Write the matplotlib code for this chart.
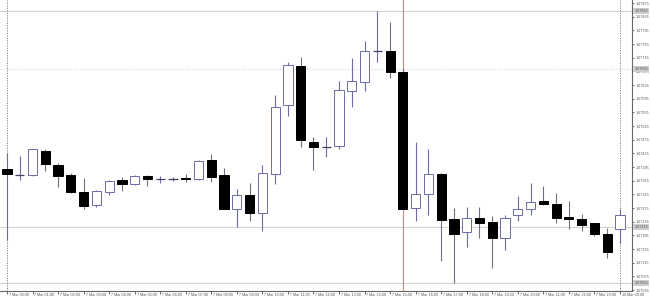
import matplotlib
matplotlib.use("Agg")
import matplotlib.pyplot as plt
import numpy as np

# 30-minute candles, 7 Mar 00:00 .. 10 Mar 00:00 (prices in 1e-5 units)
opens = [167389, 167373, 167371, 167443, 167402, 167371, 167322, 167283, 167323, 167356,
         167345, 167368, 167361, 167361, 167364, 167359, 167415, 167371, 167272, 167313,
         167260, 167374, 167576, 167690, 167467, 167454, 167456, 167618, 167644, 167735,
         167734, 167672, 167274, 167315, 167374, 167242, 167204, 167245, 167234, 167186,
         167254, 167271, 167295, 167287, 167248, 167243, 167230, 167199, 167214]
highs = [167436, 167427, 167449, 167447, 167408, 167378, 167363, 167328, 167357, 167365,
         167371, 167371, 167369, 167367, 167374, 167415, 167433, 167391, 167330, 167349,
         167402, 167605, 167702, 167718, 167484, 167482, 167646, 167714, 167763, 167852,
         167819, 167681, 167467, 167448, 167376, 167274, 167279, 167277, 167252, 167254,
         167311, 167349, 167339, 167318, 167295, 167257, 167232, 167216, 167272]
lows = [167181, 167357, 167370, 167384, 167337, 167320, 167271, 167277, 167312, 167326,
        167343, 167339, 167347, 167353, 167351, 167357, 167352, 167271, 167220, 167238,
        167209, 167345, 167544, 167453, 167386, 167425, 167447, 167572, 167618, 167702,
        167655, 167269, 167236, 167256, 167121, 167055, 167162, 167186, 167099, 167152,
        167238, 167254, 167284, 167232, 167213, 167209, 167193, 167130, 167172]
closes = [167374, 167373, 167447, 167403, 167370, 167321, 167281, 167325, 167354, 167346,
          167368, 167361, 167361, 167361, 167359, 167412, 167367, 167272, 167313, 167260,
          167377, 167572, 167693, 167474, 167453, 167454, 167620, 167646, 167734, 167735,
          167673, 167272, 167316, 167374, 167240, 167198, 167245, 167232, 167186, 167246,
          167271, 167293, 167286, 167245, 167243, 167225, 167198, 167146, 167254]

x_labels = ["7 Mar %02d:00" % h for h in range(24)] + ["10 Mar 00:00"]
y_ticks = [1.67875, 1.67835, 1.67795, 1.67755, 1.67715, 1.67675, 1.67635, 1.67595,
           1.67555, 1.67515, 1.67475, 1.67435, 1.67395, 1.67355, 1.67315, 1.67275,
           1.67235, 1.67195, 1.67155, 1.67115, 1.67075, 1.67035]
hline_prices = [1.67852, 1.67682, 1.67219, 1.67055]
hline_styles = ["-", ":", "-", "-"]
separator_idx = [0, 48]
event_idx = 31

o = np.array(opens) / 1e5
h = np.array(highs) / 1e5
l = np.array(lows) / 1e5
c = np.array(closes) / 1e5
n = len(o)
x = np.arange(n)

FS = 2.7
FONT = "Liberation Sans"

fig = plt.figure(figsize=(6.5, 3.0), dpi=100)
ax = fig.add_axes([0.0, 9 / 300, 632 / 650, 291 / 300])
ax.set_xlim(-7 / 12.77, (632 - 7) / 12.77)
ax.set_ylim(1.670321, 1.678838)

bull_col = "#6c6ca6"
wick_bear = "#707080"

# horizontal high/low lines
for p, ls in zip(hline_prices, hline_styles):
    ax.axhline(p, color="#d4d4d4", lw=0.8, ls=ls, zorder=0)
    ax.text(1.004, p, "%.5f" % p, transform=ax.get_yaxis_transform(),
            fontsize=FS, va="center", ha="left", color="#555555",
            bbox=dict(boxstyle="square,pad=0.3", fc="#cdcdcd", ec="none"),
            family=FONT, zorder=5, clip_on=False)

# separators
for si in separator_idx:
    ax.axvline(si, color="#777777", lw=0.6, ls=(0, (1.5, 1.5)), zorder=0)
ax.axvline(event_idx, color="#d88a78", lw=0.8, zorder=0)

w = 0.72
for i in range(n):
    bull = c[i] > o[i]
    doji = abs(c[i] - o[i]) < 0.5e-5
    wc = bull_col if (bull or doji) else wick_bear
    ax.vlines(x[i], l[i], h[i], color=wc, lw=0.8, zorder=2)
    if doji:
        ax.hlines(o[i], x[i] - w / 2, x[i] + w / 2, color="#404060", lw=0.9, zorder=3)
    elif bull:
        ax.bar(x[i], c[i] - o[i], bottom=o[i], width=w, facecolor="white",
               edgecolor=bull_col, lw=0.7, zorder=3)
    else:
        ax.bar(x[i], o[i] - c[i], bottom=c[i], width=w, facecolor="black",
               edgecolor="black", lw=0.7, zorder=3)

# axes styling
for s in ["left", "top"]:
    ax.spines[s].set_visible(False)
ax.spines["right"].set_color("#666666")
ax.spines["right"].set_linewidth(0.8)
ax.spines["bottom"].set_color("#666666")
ax.spines["bottom"].set_linewidth(0.8)

ax.yaxis.tick_right()
ax.set_yticks(y_ticks)
ax.set_yticklabels(["%.5f" % t for t in y_ticks])
ax.tick_params(axis="y", direction="out", length=1.5, width=0.6, pad=1.0,
               labelsize=FS, colors="#555555")
for lab in ax.get_yticklabels():
    lab.set_family(FONT)

ax.set_xticks(np.arange(0, n, 2))
ax.set_xticklabels([])
ax.tick_params(axis="x", direction="out", length=2, width=0.6, colors="#555555")
for k, lab in enumerate(x_labels):
    ax.text(2 * k + 0.15, -0.006, lab, transform=ax.get_xaxis_transform(),
            fontsize=FS, ha="left", va="top", color="#555555",
            family=FONT, clip_on=False)

fig.savefig("out.png", dpi=100, facecolor="white")
